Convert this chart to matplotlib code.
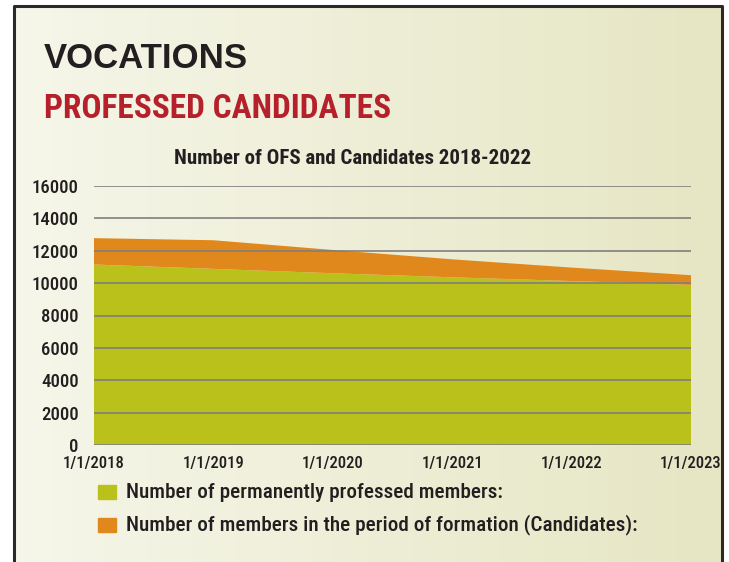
import matplotlib.pyplot as plt
import matplotlib.dates as mdates
from matplotlib.colors import LinearSegmentedColormap
import numpy as np
from datetime import date

# data
dates = [date(2018, 1, 1), date(2019, 1, 1), date(2020, 1, 1),
         date(2021, 1, 1), date(2022, 1, 1), date(2023, 1, 1)]
tick_labels = ['1/1/2018', '1/1/2019', '1/1/2020', '1/1/2021', '1/1/2022', '1/1/2023']
professed = [11150, 10880, 10610, 10360, 10130, 9890]
candidates = [1630, 1770, 1440, 1110, 830, 600]
y_ticks = [0, 2000, 4000, 6000, 8000, 10000, 12000, 14000, 16000]

green = '#bac11a'
orange = '#e1881c'
font = ['Roboto Condensed', 'Archivo Narrow', 'DejaVu Sans']
ink = '#231f20'

fig = plt.figure(figsize=(7.29, 5.62), dpi=100)

# gradient background inside the frame
bg = fig.add_axes([0, 0, 1, 1])
grad = np.linspace(0, 1, 256).reshape(1, -1)
cmap = LinearSegmentedColormap.from_list('bg', ['#f6f6ea', '#e6e6c4'])
bg.imshow(grad, aspect='auto', cmap=cmap, extent=[14 / 729, 722 / 729, 0, 1 - 6 / 562])
bg.set_xlim(0, 1)
bg.set_ylim(0, 1)
bg.plot([14 / 729, 14 / 729, 722 / 729, 722 / 729], [0, 1 - 6 / 562, 1 - 6 / 562, 0],
        color='#2a2a2a', lw=2.2)
bg.axis('off')

fig.text(44 / 729, 1 - 59 / 562, 'VOCATIONS', family=['Liberation Sans', 'DejaVu Sans'],
         fontweight='bold', fontsize=25, color=ink, va='center', ha='left')
fig.text(44 / 729, 1 - 109 / 562, 'PROFESSED CANDIDATES', family=font, fontweight='bold',
         fontsize=24, color='#b5202a', va='center', ha='left')

ax = fig.add_axes([94 / 729, 1 - 445 / 562, (691 - 94) / 729, (445 - 186) / 562])
x = mdates.date2num(dates)
ax.stackplot(x, professed, candidates, colors=[green, orange], lw=0)
ax.set_xlim(x[0], x[-1])
ax.set_ylim(0, 16000)
for v in y_ticks:
    ax.axhline(v, color='#7f7f7f', lw=1.2, zorder=5)
ax.patch.set_alpha(0)
for s in ax.spines.values():
    s.set_visible(False)
ax.set_yticks(y_ticks)
ax.set_yticklabels([str(v) for v in y_ticks], family=font, fontweight=500,
                   fontsize=13.5, color=ink)
ax.set_xticks(x)
ax.set_xticklabels(tick_labels, family=font, fontweight=500, fontsize=12, color=ink)
ax.tick_params(length=0, axis='y', pad=11)
ax.tick_params(length=0, axis='x', pad=8)

fig.text(353 / 729, 1 - 158 / 562, 'Number of OFS and Candidates 2018-2022', family=font,
         fontweight='bold', fontsize=15, color=ink, ha='center', va='center')

# legend
fig.patches.append(plt.Rectangle((98 / 729, 1 - 499 / 562), 18 / 729, 14 / 562,
                                 transform=fig.transFigure, color=green, figure=fig))
fig.patches.append(plt.Rectangle((98 / 729, 1 - 532 / 562), 18 / 729, 14 / 562,
                                 transform=fig.transFigure, color=orange, figure=fig))
fig.text(126 / 729, 1 - 492 / 562, 'Number of permanently professed members:', family=font,
         fontweight=500, fontsize=15.2, color=ink, va='center')
fig.text(126 / 729, 1 - 525 / 562, 'Number of members in the period of formation (Candidates):',
         family=font, fontweight=500, fontsize=15.2, color=ink, va='center')

plt.savefig('out.png', dpi=100)
